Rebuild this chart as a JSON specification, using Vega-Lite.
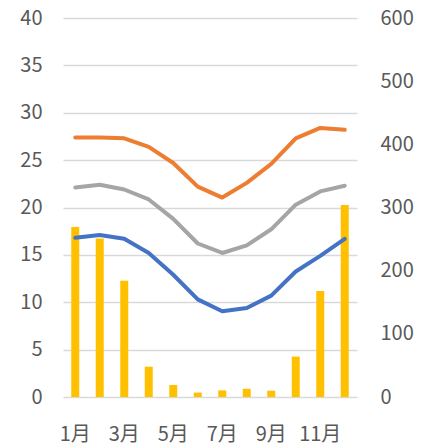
{
  "$schema": "https://vega.github.io/schema/vega-lite/v6.json",
  "width": 294,
  "height": 379,
  "autosize": {"type": "none"},
  "padding": {"left": 63, "top": 18, "right": 66, "bottom": 49},
  "background": "white",
  "config": {
    "view": {"stroke": null},
    "font": "Noto Sans CJK JP",
    "axis": {
      "labelFont": "Noto Sans CJK JP",
      "labelFontSize": 20,
      "labelColor": "#595959",
      "domain": false,
      "ticks": false,
      "title": null
    }
  },
  "data": {
    "values": [
      {"month": "1月", "precip": 269, "max": 27.4, "mean": 22.1, "min": 16.8},
      {"month": "2月", "precip": 251, "max": 27.4, "mean": 22.4, "min": 17.1},
      {"month": "3月", "precip": 184, "max": 27.3, "mean": 21.9, "min": 16.7},
      {"month": "4月", "precip": 48, "max": 26.4, "mean": 20.85, "min": 15.2},
      {"month": "5月", "precip": 19, "max": 24.7, "mean": 18.8, "min": 12.9},
      {"month": "6月", "precip": 7, "max": 22.2, "mean": 16.2, "min": 10.3},
      {"month": "7月", "precip": 10.5, "max": 21.05, "mean": 15.2, "min": 9.05},
      {"month": "8月", "precip": 13, "max": 22.6, "mean": 16.0, "min": 9.4},
      {"month": "9月", "precip": 10, "max": 24.6, "mean": 17.7, "min": 10.7},
      {"month": "10月", "precip": 64, "max": 27.3, "mean": 20.3, "min": 13.25},
      {"month": "11月", "precip": 168, "max": 28.4, "mean": 21.7, "min": 14.9},
      {"month": "12月", "precip": 304, "max": 28.2, "mean": 22.3, "min": 16.7}
    ]
  },
  "encoding": {
    "x": {
      "field": "month",
      "type": "ordinal",
      "sort": null,
      "scale": {"paddingInner": 0, "paddingOuter": 0},
      "axis": {
        "labelAngle": 0,
        "labelPadding": 27,
        "labelOverlap": false,
        "labelExpr": "indexof(['1月','3月','5月','7月','9月','11月'], datum.label) >= 0 ? datum.label : ''"
      }
    }
  },
  "layer": [
    {
      "mark": {"type": "bar", "color": "#FFC000", "size": 8},
      "encoding": {
        "y": {
          "field": "precip",
          "type": "quantitative",
          "scale": {"domain": [0, 600], "nice": false},
          "axis": {
            "orient": "right",
            "values": [0, 100, 200, 300, 400, 500, 600],
            "grid": false,
            "labelPadding": 23,
            "labelAlign": "left"
          }
        }
      }
    },
    {
      "transform": [
        {"fold": ["max", "mean", "min"], "as": ["series", "temp"]}
      ],
      "mark": {"type": "line", "strokeWidth": 4, "strokeJoin": "round", "strokeCap": "round"},
      "encoding": {
        "y": {
          "field": "temp",
          "type": "quantitative",
          "scale": {"domain": [0, 40], "nice": false},
          "axis": {
            "orient": "left",
            "values": [0, 5, 10, 15, 20, 25, 30, 35, 40],
            "grid": true,
            "gridColor": "#D9D9D9",
            "gridWidth": 1.3,
            "labelPadding": 21
          }
        },
        "color": {
          "field": "series",
          "type": "nominal",
          "scale": {"domain": ["max", "mean", "min"], "range": ["#ED7D31", "#A5A5A5", "#4472C4"]},
          "legend": null
        }
      }
    }
  ],
  "resolve": {"scale": {"y": "independent"}}
}
